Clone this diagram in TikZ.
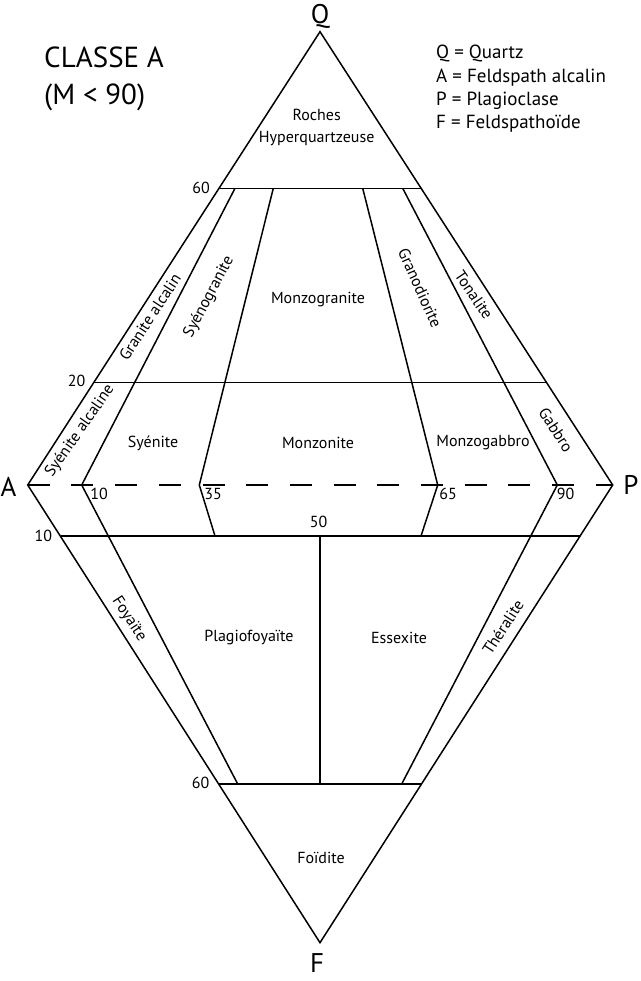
\documentclass[tikz,border=0pt]{standalone}
\usepackage{fontspec}
\setmainfont{PT Sans}

\begin{document}
\begin{tikzpicture}[x=1pt,y=-1pt,
  every node/.style={inner sep=0pt},
  edge/.style={line width=1.5pt},
  rock/.style={font=\fontsize{16}{21.5}\selectfont,align=center},
  num/.style={font=\fontsize{16}{18}\selectfont},
  apex/.style={font=\fontsize{27}{30}\selectfont},
  titre/.style={font=\fontsize{29}{32}\selectfont,anchor=base west},
  legend/.style={font=\fontsize{19}{22}\selectfont,anchor=base west}]
\useasboundingbox (0,0) rectangle (640,981);

\coordinate (Q) at (320,31.7);
\coordinate (A) at (27.7,485);
\coordinate (P) at (612.7,485);
\coordinate (F) at (320,942.7);

\coordinate (q60l) at (219.3,188.3);
\coordinate (q60r) at (420.7,188.3);
\coordinate (q20l) at (93.6,382.3);
\coordinate (q20r) at (546.4,382.3);
\coordinate (f10l) at (60.5,536);
\coordinate (f10r) at (579.7,536);
\coordinate (f60l) at (218.5,784);
\coordinate (f60r) at (421.5,784);

\coordinate (t10) at (235,188.3);
\coordinate (t35) at (273.3,188.3);
\coordinate (t65) at (362.7,188.3);
\coordinate (t90) at (402.7,188.3);
\coordinate (a10) at (81.7,485);
\coordinate (a35) at (199.3,485);
\coordinate (a65) at (437.7,485);
\coordinate (a90) at (557.3,485);
\coordinate (b10) at (237.7,784);
\coordinate (b35) at (215,536);
\coordinate (b65) at (421,536);
\coordinate (b90) at (401.7,784);
\coordinate (m50) at (320,536);
\coordinate (m60) at (320,784);

\draw [edge] (Q) -- (A) -- (F) -- (P) -- cycle;
\draw [edge] (q60l) -- (q60r);
\draw [edge] (q20l) -- (q20r);
\draw [edge] (f10l) -- (f10r);
\draw [edge] (f60l) -- (f60r);
\draw [edge,dash pattern=on 22pt off 21.7pt] (A) -- (P);
\draw [edge] (t10) -- (a10) -- (b10);
\draw [edge] (t35) -- (a35) -- (b35);
\draw [edge] (t65) -- (a65) -- (b65);
\draw [edge] (t90) -- (a90) -- (b90);
\draw [edge] (m50) -- (m60);

\draw (320,16) node[apex] (lQ) {Q};
\draw (8.5,487) node[apex] (lA) {A};
\draw (631,485) node[apex] (lP) {P};
\draw (317,963) node[apex] (lF) {F};

\draw (44,67.3) node[titre] (titre) {CLASSE A};
\draw (44,105) node[titre] (classe) {(M < 90)};

\draw (436,59) node[legend] (legQ) {Q = Quartz};
\draw (436,82.3) node[legend] (legA) {A = Feldspath alcalin};
\draw (436,105.7) node[legend] (legP) {P = Plagioclase};
\draw (436,129) node[legend] (legF) {F = Feldspathoïde};

\draw (316.7,127.5) node[rock] (hyper) {Roches\\Hyperquartzeuse};
\draw (318,300) node[rock] (monzogranite) {Monzogranite};
\draw (153,443) node[rock] (syenite) {Syénite};
\draw (318,443) node[rock] (monzonite) {Monzonite};
\draw (483,443) node[rock] (monzogabbro) {Monzogabbro};
\draw (249,638) node[rock] (plagiofoyaite) {Plagiofoyaïte};
\draw (399,638) node[rock] (essexite) {Essexite};
\draw (321,858) node[rock] (foidite) {Foïdite};

\draw (150,317) node[rock,rotate=57] (granalc) {Granite alcalin};
\draw (209,297) node[rock,rotate=62] (syenogranite) {Syénogranite};
\draw (80,431) node[rock,rotate=55] (syenalc) {Syénite alcaline};
\draw (420,288) node[rock,rotate=-66] (granodiorite) {Granodiorite};
\draw (474,295) node[rock,rotate=-56] (tonalite) {Tonalite};
\draw (556,430) node[rock,rotate=-57] (gabbro) {Gabbro};
\draw (129,619) node[rock,rotate=-57] (foyaite) {Foyaïte};
\draw (503,627) node[rock,rotate=57] (theralite) {Théralite};

\draw (201,188) node[num] (n60q) {60};
\draw (76.5,380.7) node[num] (n20q) {20};
\draw (43.3,536) node[num] (n10f) {10};
\draw (200.5,783.3) node[num] (n60f) {60};
\draw (99,494) node[num] (n10) {10};
\draw (213,494) node[num] (n35) {35};
\draw (448,494) node[num] (n65) {65};
\draw (565.7,494) node[num] (n90) {90};
\draw (318.5,522) node[num] (n50) {50};
\end{tikzpicture}
\end{document}
